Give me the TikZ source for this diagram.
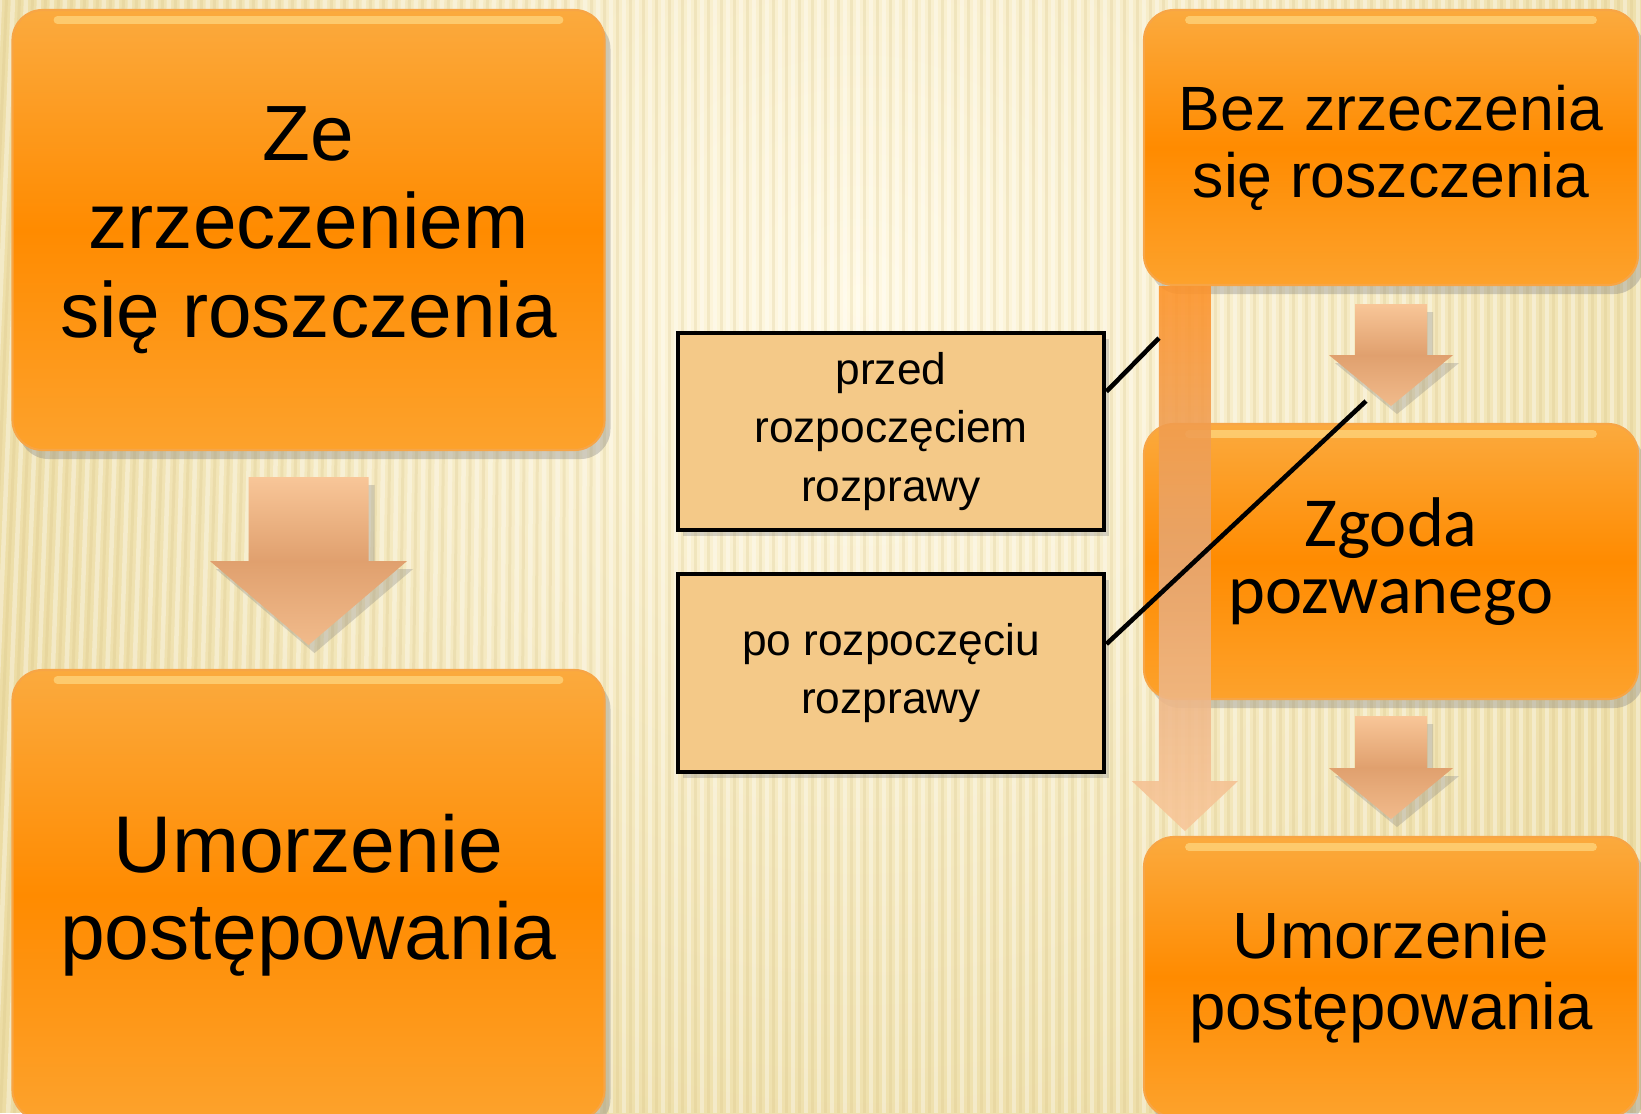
\documentclass[tikz,border=0pt]{standalone}
\usepackage{fontspec}
\setmainfont{Liberation Sans}
\newfontfamily\calibrish{Carlito}
\usetikzlibrary{calc,shadows}
\definecolor{boxtop}{RGB}{251,170,62}
\definecolor{boxmid}{RGB}{255,139,0}
\definecolor{boxbot}{RGB}{253,162,44}
\definecolor{boxrim}{RGB}{247,165,70}
\definecolor{boxgleam}{RGB}{255,236,160}
\definecolor{peachtop}{RGB}{248,198,152}
\definecolor{peachbot}{RGB}{224,160,110}
\definecolor{calloutfill}{RGB}{244,201,136}
\definecolor{paper}{RGB}{236,220,164}
\definecolor{paperlight}{RGB}{255,249,228}
\definecolor{paperdark}{RGB}{212,190,126}
\def\blockarrow[#1](#2)(#3:#4:#5:#6) {\shade[#1] ($(#2)+(-#3,0)$) -- ($(#2)+(#3,0)$) -- ($(#2)+(#3,-#5)$) -- ($(#2)+(#4,-#5)$) -- ($(#2)+(0,-#5-#6)$) -- ($(#2)+(-#4,-#5)$) -- ($(#2)+(-#3,-#5)$) -- cycle;}

\begin{document}
\begin{tikzpicture}[
	orangebox/.style={rounded corners=0.3cm, draw=boxrim, line width=0.6pt, top color=boxtop, bottom color=boxbot, middle color=boxmid, align=center,
		drop shadow={opacity=0.35,shadow xshift=0.6mm,shadow yshift=-0.9mm},
		path picture={\draw[boxgleam, line width=2.2pt, opacity=0.5, line cap=round] ([xshift=0.45cm,yshift=-0.1cm]path picture bounding box.north west) -- ([xshift=-0.45cm,yshift=-0.1cm]path picture bounding box.north east);}},
	calloutbox/.style={draw=black, line width=1.4pt, fill=calloutfill, align=center, font=\fontsize{12.6}{16.7}\selectfont, drop shadow={opacity=0.3,shadow xshift=0.5mm,shadow yshift=-0.6mm}},
	peach/.style={top color=peachtop, bottom color=peachtop!70!peachbot, middle color=peachbot, drop shadow={opacity=0.3,shadow xshift=0.6mm,shadow yshift=-0.8mm}},
	calloutline/.style={line width=1.3pt}]
	\useasboundingbox (0,0) rectangle (16.41,-11.13);
	%BACKGROUND
	\begin{scope}
	\clip (0,0) rectangle (16.41,-11.13);
	\fill[paper] (0,0) rectangle (16.41,-11.13);
	\shade[inner color=paperlight, outer color=paper] (8.6,-3.0) circle (9.5cm);
	\foreach \x in {0,0.13,...,16.6} {
		\draw[white, opacity=0.35, line width=0.045cm] (\x,0) -- ({\x-max(0,6-\x)*0.08},-11.13);
		\draw[paperdark, opacity=0.22, line width=0.03cm] (\x+0.065,0) -- ({\x+0.065-max(0,6-\x)*0.08},-11.13);
	}
	\end{scope}
	
	%LEFT COLUMN
	\node[orangebox, minimum width=5.92cm, minimum height=4.40cm, font=\fontsize{22.3}{25.2}\selectfont] (zrzecz) at (3.085,-2.30) {Ze\\zrzeczeniem\\się roszczenia};
	\node[orangebox, minimum width=5.92cm, minimum height=4.50cm, font=\fontsize{22.9}{24.6}\selectfont] (umorzL) at (3.085,-8.95) {Umorzenie\\postępowania};
	
	%RIGHT COLUMN
	\node[orangebox, minimum width=4.94cm, minimum height=2.75cm, font=\fontsize{17.8}{19}\selectfont] (bez) at (13.91,-1.475) {Bez zrzeczenia\\się roszczenia};
	\node[orangebox, minimum width=4.94cm, minimum height=2.75cm, font=\calibrish\fontsize{20}{19.2}\selectfont] (zgoda) at (13.91,-5.615) {Zgoda\\pozwanego};
	\node[orangebox, minimum width=4.94cm, minimum height=2.80cm, font=\fontsize{18.6}{20.2}\selectfont] (umorzR) at (13.91,-9.77) {Umorzenie\\postępowania};
	
	%BLOCK ARROWS
	\coordinate (a1) at ($(zrzecz.south)+(0,-0.26)$);
	\coordinate (a2) at ($(bez.south)+(0,-0.18)$);
	\coordinate (a3) at ($(zgoda.south)+(0,-0.16)$);
	\coordinate (a4) at ($(bez.south west)+(0.42,0)$);
	\blockarrow[peach](a1)(0.60:0.985:0.84:0.84)
	\blockarrow[peach](a2)(0.36:0.62:0.51:0.51)
	\blockarrow[peach](a3)(0.36:0.62:0.52:0.51)
	\blockarrow[top color=orange!75!peachtop, bottom color=peachtop, middle color=peachbot!80!peachtop, opacity=0.88](a4)(0.26:0.53:4.95:0.50)
	
	%CALLOUTS
	\node[calloutbox, minimum width=4.26cm, minimum height=1.97cm] (przed) at (8.91,-4.315) {przed\\rozpoczęciem\\rozprawy};
	\node[calloutbox, minimum width=4.26cm, minimum height=1.98cm] (po) at (8.91,-6.73) {po rozpoczęciu\\rozprawy};
	\coordinate (c1) at ($(a4)+(-0.26,-0.52)$);
	\coordinate (c2) at ($(a2)+(-0.25,-0.97)$);
	\draw[calloutline] ([yshift=4mm]przed.east) -- (c1);
	\draw[calloutline] ([yshift=2.9mm]po.east) -- (c2);
\end{tikzpicture}
\end{document}
